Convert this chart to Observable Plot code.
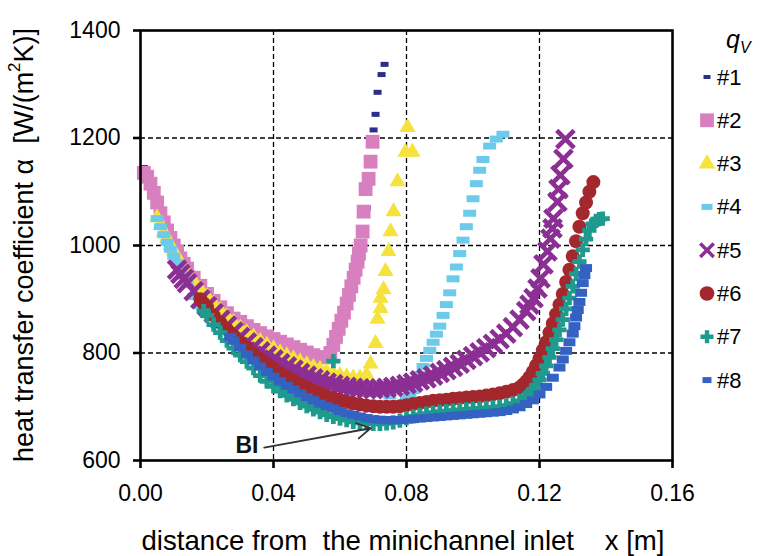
<!DOCTYPE html>
<html><head><meta charset="utf-8">
<script src="https://cdn.jsdelivr.net/npm/d3@7"></script>
<script src="https://cdn.jsdelivr.net/npm/@observablehq/plot@0.6"></script>
<style>
body{margin:0;background:#fff;}
#chart{position:relative;width:770px;height:556px;overflow:hidden;}
</style>
</head><body><div id="chart"></div>
<script>
// ---- ticks / labels ----
const xTicks = [0, 0.04, 0.08, 0.12, 0.16];
const yTicks = [600, 800, 1000, 1200, 1400];
const seriesNames = ["#1", "#2", "#3", "#4", "#5", "#6", "#7", "#8"];
const seriesColors = ["#2b2f88", "#d77fbf", "#f6e23c", "#6ccbea", "#8c2f94", "#a3282d", "#1e9b8e", "#3462c2"];
const xLabel = "distance from  the minichannel inlet    x [m]";
const annotation = [{x: 0.032, y: 628, text: "BI", x1: 0.0372, y1: 624, x2: 0.0692, y2: 660}];

// ---- series values ----
const x1 = [0.001,0.003,0.005,0.007,0.009,0.011,0.013,0.015,0.018,0.021,0.024,0.027,0.030,0.033,0.036,0.039,0.042,0.045,0.048,0.051,0.054,0.057,0.059,0.061,0.063,0.065,0.066,0.067,0.068,0.069,0.0701,0.0707,0.0713,0.0725,0.0734];
const y1 = [1145,1118,1082,1045,1016,990,968,950,925,905,888,872,858,846,835,826,817,808,800,793,790,805,835,870,910,955,985,1020,1070,1130,1215,1244,1285,1318,1337];

const x2 = [0.001,0.002,0.003,0.004,0.005,0.006,0.007,0.008,0.009,0.010,0.011,0.012,0.013,0.014,0.016,0.018,0.020,0.022,0.024,0.026,0.028,0.030,0.032,0.034,0.036,0.038,0.040,0.042,0.044,0.046,0.048,0.050,0.052,0.054,0.056,0.0571,0.0580,0.0588,0.0596,0.0604,0.0612,0.0620,0.0627,0.0634,0.0641,0.0647,0.0653,0.0657,0.0662,0.0668,0.0671,0.0677,0.0686,0.0692,0.0698];
const y2 = [1135,1128,1115,1098,1080,1060,1043,1028,1014,1000,988,976,966,957,940,925,910,897,885,874,864,858,850,843,837,831,826,821,816,811,806,801,796,792,792,800,815,830,845,860,875,892,908,924,940,955,970,985,1000,1026,1063,1105,1124,1156,1193];

const x3 = [0.005,0.006,0.007,0.008,0.009,0.010,0.011,0.012,0.014,0.016,0.018,0.020,0.022,0.024,0.026,0.028,0.030,0.032,0.034,0.036,0.038,0.040,0.042,0.044,0.046,0.048,0.050,0.052,0.054,0.056,0.058,0.060,0.062,0.064,0.066,0.068,0.0692,0.0707,0.0713,0.0722,0.0722,0.0731,0.0737,0.0746,0.0752,0.0761,0.0773,0.0797,0.0818,0.0803];
const y3 = [1052,1038,1025,1013,1001,990,979,969,951,934,919,905,892,880,868,857,847,838,830,822,815,808,801,795,789,784,779,774,770,766,762,759,756,754,754,760,780,818,863,883,902,918,952,989,1026,1063,1119,1174,1174,1220];

const x4 = [0.005,0.006,0.007,0.008,0.009,0.010,0.011,0.012,0.013,0.014,0.016,0.018,0.020,0.024,0.028,0.032,0.036,0.040,0.045,0.050,0.055,0.060,0.065,0.070,0.075,0.080,0.081,0.082,0.083,0.084,0.085,0.086,0.087,0.088,0.089,0.090,0.091,0.092,0.093,0.094,0.095,0.096,0.097,0.098,0.099,0.100,0.101,0.102,0.103,0.105,0.107,0.109];
const y4 = [1050,1035,1020,1006,993,980,968,956,943,928,905,888,872,850,828,808,792,778,764,752,742,735,729,724,720,718,722,730,745,760,775,790,805,820,835,850,870,890,912,938,960,985,1010,1035,1060,1087,1115,1140,1160,1185,1198,1207];

const x5 = [0.011,0.012,0.013,0.014,0.016,0.018,0.020,0.022,0.024,0.026,0.028,0.030,0.032,0.034,0.036,0.038,0.040,0.042,0.044,0.046,0.048,0.050,0.052,0.054,0.056,0.058,0.060,0.062,0.064,0.066,0.068,0.070,0.072,0.074,0.076,0.078,0.080,0.082,0.084,0.086,0.088,0.090,0.092,0.094,0.096,0.098,0.100,0.102,0.104,0.106,0.108,0.110,0.112,0.114,0.116,0.117,0.1182,0.1194,0.1203,0.1212,0.1224,0.1233,0.1239,0.1242,0.1254,0.1257,0.1263,0.1272,0.1278];
const y5 = [955,947,938,930,915,900,887,874,862,851,840,830,820,811,803,795,788,781,775,769,763,758,753,749,745,742,739,737,735,734,733,733,734,735,737,739,742,745,749,753,758,763,768,774,780,787,794,801,809,817,826,836,848,862,878,890,902,920,939,965,989,1013,1032,1050,1081,1105,1131,1161,1198];

const x6 = [0.018,0.019,0.020,0.022,0.024,0.026,0.028,0.030,0.032,0.034,0.036,0.038,0.040,0.042,0.044,0.046,0.048,0.050,0.052,0.054,0.056,0.058,0.060,0.062,0.064,0.066,0.068,0.070,0.072,0.074,0.076,0.078,0.080,0.082,0.084,0.086,0.088,0.090,0.092,0.094,0.096,0.098,0.100,0.102,0.104,0.106,0.108,0.110,0.112,0.114,0.115,0.116,0.117,0.118,0.119,0.120,0.121,0.122,0.123,0.124,0.125,0.126,0.127,0.128,0.129,0.130,0.131,0.132,0.133,0.134,0.135,0.1362];
const y6 = [900,892,885,870,857,844,832,820,809,798,789,780,771,763,756,749,742,736,730,725,720,716,712,709,706,704,702,701,700,700,700,701,703,705,707,709,711,712,713,715,716,717,718,719,721,723,725,728,731,736,741,747,755,765,777,790,805,820,838,855,872,890,910,932,955,980,1008,1035,1060,1080,1100,1118];

const x7 = [0.058,0.019,0.020,0.022,0.024,0.026,0.028,0.030,0.032,0.034,0.036,0.038,0.040,0.042,0.044,0.046,0.048,0.050,0.052,0.054,0.056,0.058,0.060,0.062,0.064,0.066,0.068,0.070,0.072,0.074,0.076,0.078,0.080,0.082,0.084,0.086,0.088,0.090,0.092,0.094,0.096,0.098,0.100,0.102,0.104,0.106,0.108,0.110,0.112,0.114,0.116,0.117,0.118,0.119,0.120,0.121,0.122,0.123,0.124,0.125,0.126,0.127,0.128,0.129,0.130,0.131,0.132,0.133,0.134,0.135,0.136,0.137,0.138,0.139];
const y7 = [785,878,870,853,838,823,809,796,784,772,758,747,738,729,721,714,707,701,695,690,685,681,678,675,672,670,669,668,668,669,671,674,679,682,685,687,689,691,692,693,694,695,696,697,698,699,700,702,706,711,718,724,731,740,750,762,776,792,808,825,843,862,882,902,924,947,970,992,1012,1028,1040,1046,1049,1050];

const x8 = [0.027,0.028,0.030,0.032,0.034,0.036,0.038,0.040,0.042,0.044,0.046,0.048,0.050,0.052,0.054,0.056,0.058,0.060,0.062,0.064,0.066,0.068,0.070,0.072,0.074,0.076,0.078,0.080,0.082,0.084,0.086,0.088,0.090,0.092,0.094,0.096,0.098,0.100,0.102,0.104,0.106,0.108,0.110,0.112,0.114,0.116,0.118,0.120,0.122,0.124,0.126,0.127,0.128,0.129,0.130,0.1305,0.131,0.1315,0.132,0.1325,0.133,0.1335,0.134];
const y8 = [830,823,810,797,786,775,765,756,747,739,732,725,718,712,706,701,697,692,688,685,682,679,677,676,675,675,675,676,677,678,679,680,681,682,683,684,685,686,687,688,689,690,692,695,699,705,712,723,737,754,773,788,804,820,836,850,866,880,895,912,930,945,958];

// ---- build table ----
const seriesX = [x1, x2, x3, x4, x5, x6, x7, x8];
const seriesY = [y1, y2, y3, y4, y5, y6, y7, y8];
const rows = [];
seriesX.forEach((xs, i) => xs.forEach((x, j) => rows.push({s: i, x, y: seriesY[i][j]})));

// custom horizontal dash symbol
function dash(w, h) {
  return {draw(ctx) { ctx.moveTo(-w/2, -h/2); ctx.lineTo(w/2, -h/2); ctx.lineTo(w/2, h/2); ctx.lineTo(-w/2, h/2); ctx.closePath(); }};
}
const styles = [
  {symbol: dash(8, 5), fill: seriesColors[0]},
  {symbol: "square", fill: seriesColors[1], r: 7.8},
  {symbol: "triangle", fill: seriesColors[2], r: 6},
  {symbol: dash(13, 7), fill: seriesColors[3]},
  {symbol: "times", stroke: seriesColors[4], strokeWidth: 4.6, r: 8},
  {symbol: "circle", fill: seriesColors[5], r: 7},
  {symbol: "cross", fill: seriesColors[6], r: 6},
  {symbol: dash(12, 8), fill: seriesColors[7]}
];

const gridStyle = {stroke: "#000", strokeOpacity: 1, strokeWidth: 1.3, strokeDasharray: "5,3"};

const plot = Plot.plot({
  width: 770, height: 556,
  marginLeft: 140, marginRight: 98, marginTop: 30, marginBottom: 96,
  style: {fontFamily: "'Liberation Sans', Arial, sans-serif", fontSize: "23px", background: "#fff", color: "#000", overflow: "visible"},
  x: {domain: [0, 0.16]},
  y: {domain: [600, 1400]},
  marks: [
    Plot.gridX(xTicks.slice(1, -1), gridStyle),
    Plot.gridY(yTicks.slice(1, -1), gridStyle),
    ...styles.map((st, i) => Plot.dot(rows.filter(d => d.s === i), {x: "x", y: "y", ...st})),
    Plot.frame({stroke: "#000", strokeWidth: 2.6}),
    Plot.axisX(xTicks, {tickFormat: d3.format(".2f"), tickSize: 8, tickPadding: 16, strokeWidth: 2.6, label: null, fontSize: 23}),
    Plot.axisY(yTicks, {tickFormat: d3.format("d"), tickSize: 7, tickPadding: 13, strokeWidth: 2.6, label: null, fontSize: 23}),
    Plot.arrow(annotation, {x1: "x1", y1: "y1", x2: "x2", y2: "y2", stroke: "#333", strokeWidth: 1.8, headLength: 13}),
    Plot.text(annotation, {x: "x", y: "y", text: "text", fontWeight: "bold", fontSize: 23, fill: "#111"})
  ]
});
document.getElementById("chart").appendChild(plot);

// ---- axis titles & legend ----
const svg = d3.select(plot);
const yl = svg.append("text")
  .attr("transform", "translate(24,245) rotate(-90)")
  .attr("text-anchor", "middle").attr("dominant-baseline", "central")
  .attr("font-size", 27).attr("fill", "#000").style("white-space", "pre");
yl.append("tspan").text("heat transfer coefficient \u03b1  [W/(m");
yl.append("tspan").attr("font-size", 17).attr("dy", -10).text("2");
yl.append("tspan").attr("dy", 10).text("K)]");

svg.append("text").attr("x", 403).attr("y", 550).attr("text-anchor", "middle")
  .attr("font-size", 27.6).attr("fill", "#000").style("white-space", "pre").text(xLabel);

const lg = svg.append("g").attr("font-size", 22).attr("fill", "#000").attr("text-anchor", "start");
const qt = lg.append("text").attr("x", 726).attr("y", 48).attr("font-style", "italic");
qt.append("tspan").attr("font-size", 25).text("q");
qt.append("tspan").attr("font-size", 16).attr("dy", 5).text("V");

const legendSym = [
  {type: dash(7, 4), size: 0}, {type: d3.symbolSquare, size: 190}, {type: d3.symbolTriangle, size: 120},
  {type: dash(11, 6), size: 0}, {type: d3.symbolTimes, size: 120}, {type: d3.symbolCircle, size: 170},
  {type: d3.symbolCross, size: 95}, {type: dash(9, 6), size: 0}
];
seriesNames.forEach((name, i) => {
  const yy = 77 + i * 43.3;
  const p = lg.append("path").attr("transform", `translate(707,${yy})`)
    .attr("d", d3.symbol().type(legendSym[i].type).size(legendSym[i].size)());
  if (i === 4) p.attr("fill", "none").attr("stroke", seriesColors[i]).attr("stroke-width", 3.5);
  else p.attr("fill", seriesColors[i]);
  lg.append("text").attr("x", 717).attr("y", yy).attr("dominant-baseline", "central").text(name);
});
</script>
</body></html>
